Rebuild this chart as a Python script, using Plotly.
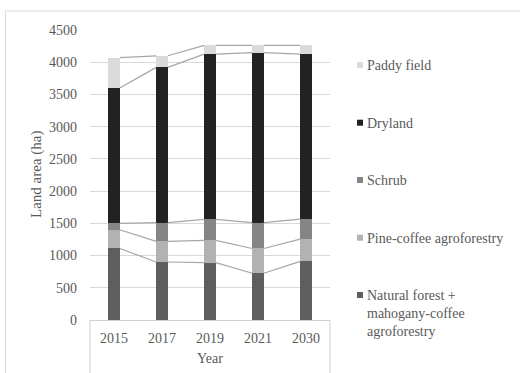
import plotly.graph_objects as go

years = ["2015", "2017", "2019", "2021", "2030"]
natural = [1110, 900, 890, 725, 910]
pine = [290, 320, 345, 385, 345]
schrub = [100, 290, 325, 400, 310]
dryland = [2100, 2410, 2565, 2640, 2560]
paddy = [470, 180, 137, 112, 137]

names = ["Natural forest +<br>mahogany-coffee<br>agroforestry", "Pine-coffee agroforestry",
         "Schrub", "Dryland", "Paddy field"]
series = [natural, pine, schrub, dryland, paddy]
colors = ["#5e5e5e", "#b2b2b2", "#858585", "#222222", "#dadada"]

FONT = "Liberation Serif, Times New Roman, serif"
W, H = 520, 373
L, R, T, B = 90, 190, 30, 53
PW, PH = W - L - R, H - T - B

def px(x):
    return (x - L) / PW

def py(y):
    return (H - B - y) / PH

xs = list(range(len(years)))
bw = 0.24

fig = go.Figure()
for s, c in zip(series, colors):
    fig.add_trace(go.Bar(x=xs, y=s, marker=dict(color=c, line=dict(width=0)),
                         width=bw, showlegend=False, hoverinfo="skip"))

# series lines connecting the top of each segment
cum = [0] * len(years)
for s in series:
    cum = [a + b for a, b in zip(cum, s)]
    lx, ly = [], []
    for i in range(len(years) - 1):
        lx += [i + bw / 2, i + 1 - bw / 2, None]
        ly += [cum[i], cum[i + 1], None]
    fig.add_trace(go.Scatter(x=lx, y=ly, mode="lines", line=dict(color="#a6a6a6", width=1.2),
                             showlegend=False, hoverinfo="skip"))

shapes = []
# outer chart border (top + left)
shapes.append(dict(type="line", xref="paper", yref="paper", x0=px(5.5), x1=px(530), y0=py(11), y1=py(11),
                   line=dict(color="#d9d9d9", width=1)))
shapes.append(dict(type="line", xref="paper", yref="paper", x0=px(5.5), x1=px(5.5), y0=py(11), y1=py(390),
                   line=dict(color="#d9d9d9", width=1)))
# category box
for xx in [L, L + PW]:
    shapes.append(dict(type="line", xref="paper", yref="paper", x0=px(xx), x1=px(xx), y0=0, y1=py(390),
                       line=dict(color="#d0d0d0", width=1)))

TXT = "#595959"
annotations = []
annotations.append(dict(text="Year", xref="paper", yref="paper", x=px(210), y=py(358), showarrow=False,
                        font=dict(family=FONT, size=14, color=TXT), xanchor="center", yanchor="middle"))
annotations.append(dict(text="Land area (ha)", xref="paper", yref="paper", x=px(36), y=py(175), showarrow=False,
                        textangle=-90, font=dict(family=FONT, size=15, color=TXT),
                        xanchor="center", yanchor="middle"))

# legend (top to bottom: Paddy, Dryland, Schrub, Pine, Natural)
leg_y = [65, 122.7, 180, 237.7, 295]
for i, k in enumerate([4, 3, 2, 1, 0]):
    y = leg_y[i]
    shapes.append(dict(type="rect", xref="paper", yref="paper", x0=px(357), x1=px(363),
                       y0=py(y - 3), y1=py(y + 3), fillcolor=colors[k], line=dict(width=0)))
    annotations.append(dict(text=names[k], xref="paper", yref="paper", x=px(365), y=py(y - 9),
                            showarrow=False, xanchor="left", yanchor="top", align="left",
                            font=dict(family=FONT, size=14, color=TXT)))

fig.update_layout(
    width=W, height=H, margin=dict(l=L, r=R, t=T, b=B),
    paper_bgcolor="white", plot_bgcolor="white",
    barmode="stack", bargap=0,
    shapes=shapes, annotations=annotations,
    xaxis=dict(tickmode="array", tickvals=xs, ticktext=years, range=[-0.5, 4.5],
               showgrid=False, zeroline=False, showline=True, linecolor="#d0d0d0", linewidth=1,
               ticks="", ticklabelstandoff=5,
               tickfont=dict(family=FONT, size=14, color=TXT)),
    yaxis=dict(range=[0, 4500], tickmode="array", tickvals=list(range(0, 4501, 500)),
               showgrid=True, gridcolor="#d9d9d9", gridwidth=1, zeroline=False, showline=False,
               ticks="", ticklabelstandoff=12,
               tickfont=dict(family=FONT, size=14, color=TXT)),
)

fig.write_html("out.html")
